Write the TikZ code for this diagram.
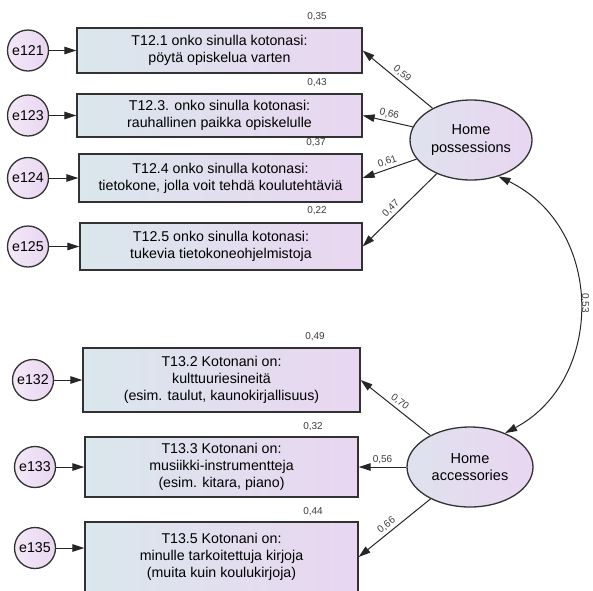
\documentclass[tikz,border=0pt]{standalone}
\usepackage{fontspec}
\setmainfont{Liberation Sans}
\usetikzlibrary{shapes.geometric,arrows.meta}

\definecolor{fillL}{RGB}{218,231,236}
\definecolor{fillR}{RGB}{233,214,241}
\definecolor{edge}{RGB}{50,50,50}
\definecolor{numtxt}{RGB}{60,60,60}

\tikzset{
  item/.style={draw=edge, line width=1.3pt, left color=fillL, right color=fillR,
    inner sep=0pt, align=center, font=\fontsize{14.2}{17.2}\selectfont},
  errterm/.style={circle, draw=edge, line width=1.3pt, left color=fillR!55!white, right color=fillR,
    minimum size=41pt, inner sep=0pt, font=\fontsize{14.2}{16}\selectfont},
  latent/.style={ellipse, draw=edge, line width=1.3pt, left color=fillL!70!fillR, right color=fillR,
    inner sep=0pt, align=center, font=\fontsize{14.5}{17.5}\selectfont},
  arr/.style={draw=black!85, line width=1pt, -{Triangle[length=12pt,width=7.5pt]}},
  coef/.style={font=\fontsize{10}{11}\selectfont, text=numtxt, inner sep=1pt},
  rsq/.style={font=\fontsize{10}{11}\selectfont, text=numtxt, inner sep=0pt}
}

\begin{document}
\begin{tikzpicture}[x=1pt,y=-1pt]
\useasboundingbox (0,0) rectangle (593,590);
\clip (0,0) rectangle (593,590);

% observed items
\node[item, minimum width=285pt, minimum height=45pt] (b1) at (219.5,50.5)
  {T12.1 onko sinulla kotonasi:\\pöytä opiskelua varten};
\node[item, minimum width=285pt, minimum height=43pt] (b2) at (219.5,115.5)
  {T12.3. onko sinulla kotonasi:\\rauhallinen paikka opiskelulle};
\node[item, minimum width=283pt, minimum height=48pt] (b3) at (220.5,178)
  {T12.4 onko sinulla kotonasi:\\tietokone, jolla voit tehdä koulutehtäviä};
\node[item, minimum width=282pt, minimum height=47pt] (b4) at (221,246.5)
  {T12.5 onko sinulla kotonasi:\\tukevia tietokoneohjelmistoja};
\node[item, minimum width=277pt, minimum height=64pt] (b5) at (221.5,380)
  {T13.2 Kotonani on:\\kulttuuriesineitä\\(esim. taulut, kaunokirjallisuus)};
\node[item, minimum width=273pt, minimum height=60pt] (b6) at (221.5,467)
  {T13.3 Kotonani on:\\musiikki-instrumentteja\\(esim. kitara, piano)};
\node[item, minimum width=273pt, minimum height=70pt] (b7) at (221.5,557)
  {T13.5 Kotonani on:\\minulle tarkoitettuja kirjoja\\(muita kuin koulukirjoja)};

% squared multiple correlations
\node[rsq] (r1) at (317,17) {0,35};
\node[rsq] (r2) at (317,83) {0,43};
\node[rsq] (r3) at (316,143) {0,37};
\node[rsq] (r4) at (317,211) {0,22};
\node[rsq] (r5) at (315,337) {0,49};
\node[rsq] (r6) at (313,427) {0,32};
\node[rsq] (r7) at (313,512) {0,44};

% error terms
\node[errterm] (e121) at (28,50.5) {e121};
\node[errterm] (e123) at (28,115.5) {e123};
\node[errterm] (e124) at (28,178) {e124};
\node[errterm] (e125) at (28,246.5) {e125};
\node[errterm] (e132) at (33,380) {e132};
\node[errterm] (e133) at (35,467) {e133};
\node[errterm] (e135) at (35,548) {e135};

\foreach \e/\b in {e121/b1,e123/b2,e124/b3,e125/b4,e132/b5,e133/b6}
  \draw[arr] (\e) -- (\b);
\draw[arr] (e135) -- (e135 -| b7.west);

% latent factors
\node[latent, minimum width=122pt, minimum height=80pt] (hp) at (471,140) {Home\\possessions};
\node[latent, minimum width=126pt, minimum height=80pt] (ha) at (470,467) {Home\\accessories};

% loadings
\draw[arr] (hp) -- node[coef, sloped, above=1.5pt] (l1) {0,59} (b1.east);
\draw[arr] (hp) -- node[coef, sloped, above=1.5pt] (l2) {0,66} (b2.east);
\draw[arr] (hp) -- node[coef, sloped, above=1.5pt] (l3) {0,61} (b3.east);
\draw[arr] (hp) -- node[coef, sloped, above=1.5pt, pos=0.55] (l4) {0,47} (b4.east);
\draw[arr] (ha) -- node[coef, sloped, above=1.5pt] (l5) {0,70} (b5.east);
\draw[arr] (ha) -- node[coef, sloped, above=1.5pt] (l6) {0,56} (b6.east);
\draw[arr] (ha) -- node[coef, sloped, above=1.5pt, pos=0.55] (l7) {0,66} (b7.east);

% factor covariance
\draw[arr, {Triangle[length=12pt,width=7.5pt]}-{Triangle[length=12pt,width=7.5pt]}]
  (hp.-53) .. controls (605,228) and (605,380) .. (ha.44);
\node[coef, rotate=-90] (c53) at (585,303) {0,53};
\end{tikzpicture}
\end{document}
